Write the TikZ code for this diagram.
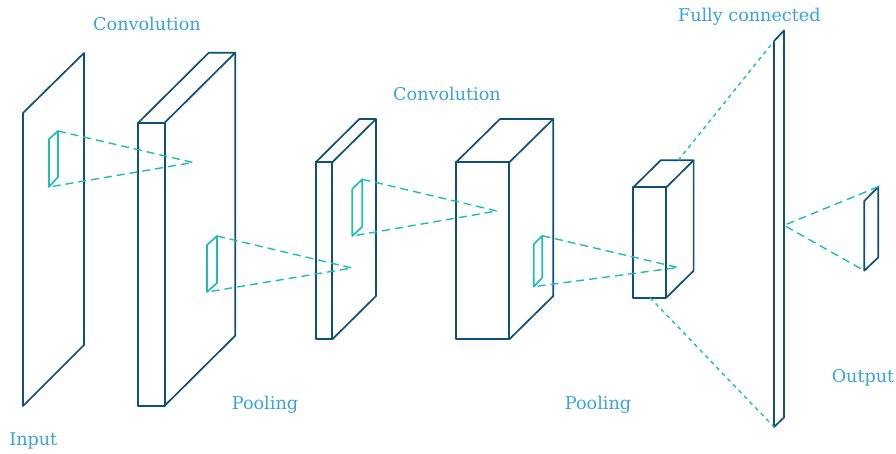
\documentclass[tikz,border=0pt]{standalone}
\usepackage{fontspec}
\setmainfont{DejaVu Serif}
\definecolor{navy}{HTML}{0F4F78}
\definecolor{teal2}{HTML}{20BDB3}
\definecolor{lbl}{HTML}{3AA3DA}
\begin{document}
\begin{tikzpicture}[x=1pt,y=-1pt,
  layer/.style={draw=navy,line width=1.7pt,line join=round},
  patch/.style={draw=teal2,line width=1.7pt,line join=round},
  ray/.style={draw=teal2,line width=1.4pt,dash pattern=on 8pt off 5pt},
  rayfine/.style={draw=teal2,line width=1.4pt,dash pattern=on 4pt off 4pt},
  label/.style={text=lbl,font=\fontsize{17.6}{20}\selectfont,anchor=base,inner sep=0pt}]
\useasboundingbox (0,0) rectangle (896,453);
% Input plane
\draw[layer] (23,113) -- (84,53) -- (84,345) -- (23,406) -- cycle;
% Convolution 1 box
\draw[layer] (138.3,122.7) rectangle (164.7,405.7);
\draw[layer] (138.3,122.7) -- (208.8,52.7) -- (235.2,52.7) -- (164.7,122.7);
\draw[layer] (235.2,52.7) -- (235.2,335.7) -- (164.7,405.7);
% Pooling 1 box
\draw[layer] (315.7,162.3) rectangle (332.3,339.3);
\draw[layer] (315.7,162.3) -- (359.4,119) -- (376,119) -- (332.3,162.3);
\draw[layer] (376,119) -- (376,296) -- (332.3,339.3);
% Convolution 2 box
\draw[layer] (456,162.3) rectangle (509.3,339.3);
\draw[layer] (456,162.3) -- (500,119) -- (553.3,119) -- (509.3,162.3);
\draw[layer] (553.3,119) -- (553.3,296) -- (509.3,339.3);
% Pooling 2 box
\draw[layer] (633.3,187.3) rectangle (666.3,297.7);
\draw[layer] (633.3,187.3) -- (660.6,160.3) -- (693.6,160.3) -- (666.3,187.3);
\draw[layer] (693.6,160.3) -- (693.6,270.7) -- (666.3,297.7);
% Fully connected plane
\draw[layer] (774,41) -- (784,30.5) -- (784,417.5) -- (774,427) -- cycle;
% Output plane
\draw[layer] (864.3,201) -- (878.3,186.7) -- (878.3,257.3) -- (864.3,270.7) -- cycle;
% patches
\draw[patch] (49,139) -- (58,131) -- (58,177) -- (49,187) -- cycle;
\draw[patch] (207,245) -- (217,236) -- (217,283) -- (207,292) -- cycle;
\draw[patch] (352.3,189) -- (362.3,179.3) -- (362.3,226.7) -- (352.3,236) -- cycle;
\draw[patch] (533.7,244.3) -- (542.3,235.7) -- (542.3,277.7) -- (533.7,286.7) -- cycle;
% named points
\coordinate (p1a) at (58,131);   \coordinate (p1b) at (49,187);   \coordinate (a1) at (193,162.5);
\coordinate (p2a) at (217,236);  \coordinate (p2b) at (207,292);  \coordinate (a2) at (352,268);
\coordinate (p3a) at (362.3,179.3); \coordinate (p3b) at (352.3,236); \coordinate (a3) at (497,211);
\coordinate (p4a) at (542.3,235.7); \coordinate (p4b) at (533.7,286.7); \coordinate (a4) at (678,267.5);
\coordinate (q1) at (678.3,160.3); \coordinate (q2) at (650,297.7);
\coordinate (fct) at (774,41); \coordinate (fcb) at (774,427);
\coordinate (fcm) at (784,225.3); \coordinate (ot) at (878.3,186.7); \coordinate (ob) at (864.3,270.7);
% rays
\draw[ray] (p1a) -- (a1) -- (p1b);
\draw[ray] (p2a) -- (a2) -- (p2b);
\draw[ray] (p3a) -- (a3) -- (p3b);
\draw[ray] (p4a) -- (a4) -- (p4b);
\draw[rayfine] (q1) -- (fct);
\draw[rayfine] (q2) -- (fcb);
\draw[ray] (ot) -- (fcm) -- (ob);
% labels
\node[label] (lc1) at (147,30.7) {Convolution};
\node[label] (lc2) at (447,100) {Convolution};
\node[label] (lfc) at (749.3,21) {Fully connected};
\node[label] (lin) at (33.3,445) {Input};
\node[label] (lp1) at (265,409) {Pooling};
\node[label] (lp2) at (598,409) {Pooling};
\node[label] (lout) at (863,382.7) {Output};
\end{tikzpicture}
\end{document}
